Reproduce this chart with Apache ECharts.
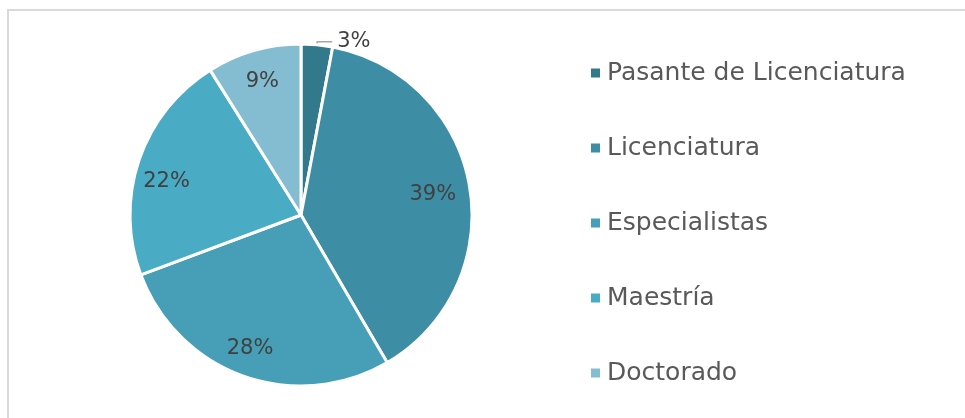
<!DOCTYPE html>
<html>
<head>
<meta charset="utf-8">
<script src="https://cdn.jsdelivr.net/npm/echarts@6/dist/echarts.min.js"></script>
<style>
  html, body { margin: 0; padding: 0; background: #fff; }
  #chart { width: 965px; height: 418px; }
</style>
</head>
<body>
<div id="chart"></div>
<script>
const categories = ['Pasante de Licenciatura', 'Licenciatura', 'Especialistas', 'Maestría', 'Doctorado'];
const values = [3, 39, 28, 22, 9];
const colors = ['#31798b', '#3d8da4', '#469fb6', '#4aabc5', '#84bdd1'];

const FONT = '"DejaVu Sans", sans-serif';
const chart = echarts.init(document.getElementById('chart'));

const center = [301, 215];
const R = 171;

// label nudges to follow Excel's placement
const labelOffsets = [[0, 0], [-6, 3], [-4, 2], [-2, 11], [0, 1]];

// main slices; only the small slice gets an outside label
const mainData = categories.map((name, i) => ({
  name,
  value: values[i],
  itemStyle: { color: colors[i] },
  label: i === 0 ? { show: true } : { show: false },
  labelLine: { show: i === 0 },
}));

// transparent ring to place the inner labels at ~0.8r
const labelData = categories.map((name, i) => ({
  name,
  value: values[i],
  label: { show: i !== 0, offset: labelOffsets[i] },
}));

chart.setOption({
  backgroundColor: '#fff',
  animation: false,
  graphic: [{
    type: 'rect',
    shape: { x: 8, y: 10, width: 1000, height: 500 },
    style: { fill: 'none', stroke: '#d9d9d9', lineWidth: 2 },
    silent: true,
  }],
  legend: {
    orient: 'vertical',
    left: 586,
    top: 55,
    icon: 'rect',
    itemWidth: 9,
    itemHeight: 9,
    itemGap: 49,
    data: categories,
    itemStyle: { borderWidth: 0 },
    textStyle: { color: '#595959', fontSize: 25, fontFamily: FONT, lineHeight: 26, padding: [0, 0, 0, 2] },
  },
  series: [
    {
      type: 'pie',
      center,
      radius: [0, R],
      startAngle: 90,
      clockwise: true,
      data: mainData,
      itemStyle: { borderColor: '#fff', borderWidth: 3 },
      label: {
        position: 'outside',
        formatter: '{c}%',
        color: '#404040',
        fontSize: 21,
        fontFamily: FONT,
      },
      labelLine: { length: 3, length2: 15, lineStyle: { color: '#a6a6a6', width: 1.5 } },
      emphasis: { disabled: true },
    },
    {
      type: 'pie',
      center,
      radius: [R * 0.6, R],
      startAngle: 90,
      clockwise: true,
      silent: true,
      data: labelData,
      itemStyle: { color: 'rgba(0,0,0,0)' },
      label: {
        position: 'inside',
        formatter: '{c}%',
        color: '#404040',
        fontSize: 21,
        fontFamily: FONT,
      },
      labelLine: { show: false },
      emphasis: { disabled: true },
      legendHoverLink: false,
    },
  ],
});
</script>
</body>
</html>
